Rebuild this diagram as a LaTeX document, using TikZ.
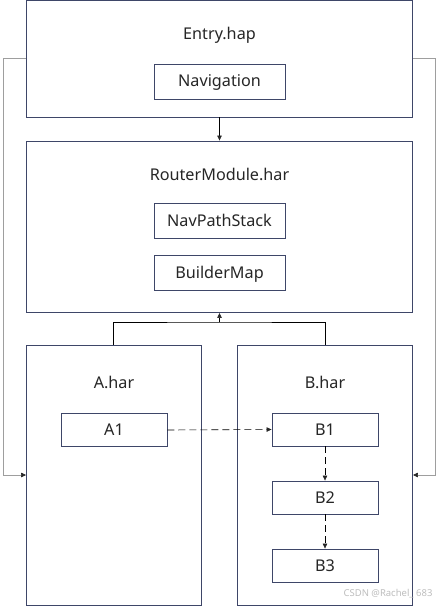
\documentclass[tikz,border=0pt]{standalone}
\usepackage{fontspec}
\setmainfont{Noto Sans}
\usepackage{tikz}
\usetikzlibrary{arrows.meta}
\definecolor{boxnavy}{RGB}{62,70,104}
\definecolor{linkgray}{RGB}{158,158,158}
\definecolor{markgray}{RGB}{190,190,190}

\tikzset{
  modbox/.style={draw=boxnavy,line width=0.9pt,inner sep=0pt},
  itembox/.style={draw=boxnavy,line width=0.9pt,inner sep=0pt,minimum height=33pt},
  lbl/.style={font=\fontsize{16.2}{19}\selectfont,text=black!85,text height=11.5pt,text depth=0.5pt},
  tipsolid/.style={-{Triangle[length=5pt,width=4.5pt,color=black!85]},line width=0.6pt},
  tipdash/.style={tipsolid,dash pattern=on 7pt off 4pt}
}

\begin{document}
\begin{tikzpicture}[x=1pt,y=-1pt]
  \useasboundingbox[fill=white] (0,0) rectangle (439,607);
  % module boxes
  \node[modbox,minimum width=386pt,minimum height=116.5pt] (entry)  at (219.5,58.75) {};
  \node[modbox,minimum width=386pt,minimum height=171.5pt] (router) at (219.5,226.75) {};
  \node[modbox,minimum width=174.5pt,minimum height=260pt] (ahar)   at (113.75,475) {};
  \node[modbox,minimum width=175pt,minimum height=260pt]   (bhar)   at (325,475) {};
  \node[lbl] (entrylbl)  at (219.5,34)  {Entry.hap};
  \node[lbl] (routerlbl) at (219.5,175) {RouterModule.har};
  \node[lbl] (aharlbl)   at (114,383)   {A.har};
  \node[lbl] (bharlbl)   at (325,383)   {B.har};
  % items
  \node[itembox,lbl,minimum width=131pt,minimum height=35pt] (nav)   at (219.5,81.5)  {Navigation};
  \node[itembox,lbl,minimum width=131pt,minimum height=35pt] (stack) at (219.5,220.5) {NavPathStack};
  \node[itembox,lbl,minimum width=131pt,minimum height=35pt] (bmap)  at (219.5,272.5) {BuilderMap};
  \node[itembox,lbl,minimum width=106pt] (a1) at (114,430)   {A1};
  \node[itembox,lbl,minimum width=106pt] (b1) at (325,429.5) {B1};
  \node[itembox,lbl,minimum width=106pt] (b2) at (325,497.5) {B2};
  \node[itembox,lbl,minimum width=106pt] (b3) at (325,565.5) {B3};
  % dependencies
  \draw[tipsolid] (entry.south) -- (router.north);
  \coordinate (join) at (219.5,322);
  \draw[line width=0.6pt] (ahar.north) |- (join) -| (bhar.north);
  \draw[tipsolid] (join) -- (router.south);
  \draw[tipsolid,linkgray] (entry.west) -- ++(-22.5,0) |- (ahar.west);
  \draw[tipsolid,linkgray] (entry.east) -- ++(22.5,0) |- (bhar.east);
  \draw[tipdash] (a1.east) -- (b1.west);
  \draw[tipdash] (b1.south) -- (b2.north);
  \draw[tipdash] (b2.south) -- (b3.north);
  \node[anchor=east,text=markgray,font=\fontsize{9.5}{11}\selectfont] (mark) at (436,594) {CSDN @Rachel\_ 683};
\end{tikzpicture}
\end{document}
